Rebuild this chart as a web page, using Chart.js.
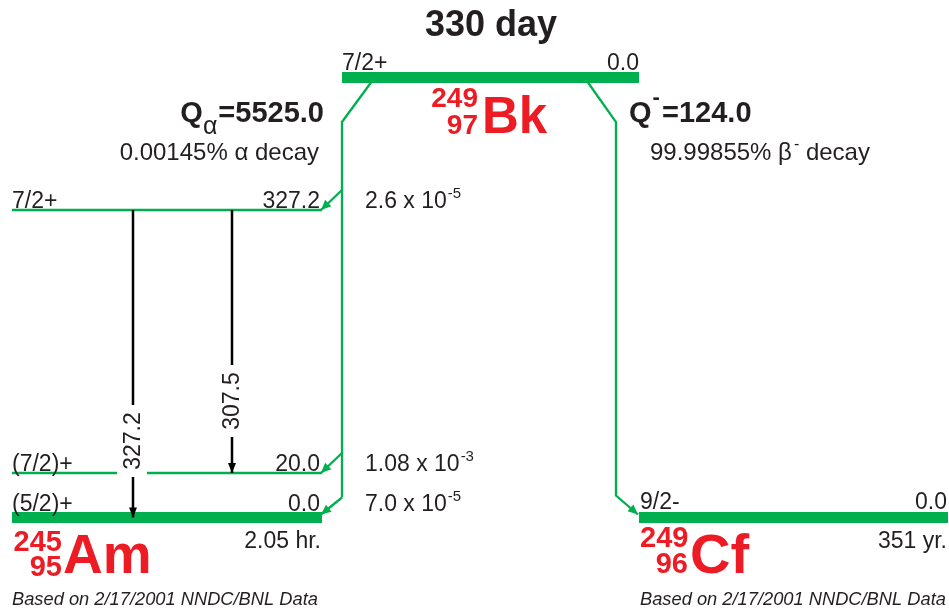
<!DOCTYPE html>
<html>
<head>
<meta charset="utf-8">
<script src="https://cdn.jsdelivr.net/npm/chart.js@4.4.1/dist/chart.umd.min.js"></script>
<style>
  html, body { margin: 0; padding: 0; background: #fff; overflow: hidden; }
  canvas { display: block; }
</style>
</head>
<body>
<canvas id="scheme" width="949" height="611"></canvas>
<script>
// ================== decay data ==================
const halfLife = "330 day";
const parentSpin = "7/2+";
const parentEnergy = 0.0;

const qAlpha = 5525.0;
const alphaBranch = "0.00145%";
const qBeta = 124.0;
const betaBranch = "99.99855%";

const amEnergies = [327.2, 20.0, 0.0];
const amSpins = ["7/2+", "(7/2)+", "(5/2)+"];
const alphaIntensity = ["2.6", "1.08", "7.0"];
const alphaExponent = [-5, -3, -5];
const amHalfLife = "2.05 hr.";

const gammaEnergies = [327.2, 307.5];
const gammaFrom = [327.2, 327.2];
const gammaTo = [0.0, 20.0];

const cfEnergies = [0.0];
const cfSpins = ["9/2-"];
const cfHalfLife = "351 yr.";

const sourceNote = "Based on 2/17/2001 NNDC/BNL Data";

// ================== layout (sheet units) ==================
const GREEN = "#00b04f", RED = "#ed1c24", INK = "#231f20";
const FONT = "'Liberation Sans', Arial, Helvetica, sans-serif";

const amRows = { "327.2": 210, "20.0": 473, "0.0": 517.5 }; // schematic, not to scale
const amRow = e => amRows[e.toFixed(1)];
const bkRow = 77.5, cfRow = 517.5;
const amSpan = [12, 322], bkSpan = [342, 639], cfSpan = [639, 948];
const gammaCols = [133, 232];
const gammaLabelMid = [441, 401];
const gammaGap = 36;
const alphaCol = 342, betaCol = 616;

const widthFor = e => (e === 0 ? 11 : 2.5);
const tipFor = e => (e === 0 ? 3 : 0); // arrows stop at top edge of thick bars

// ================== datasets ==================
const datasets = [];

// gamma rays
gammaEnergies.forEach((g, i) => {
  const c = gammaCols[i];
  datasets.push({
    data: [
      { x: c, y: amRow(gammaFrom[i]) },
      { x: c, y: gammaLabelMid[i] - gammaGap },
      { x: c, y: null },
      { x: c, y: gammaLabelMid[i] + gammaGap },
      { x: c, y: amRow(gammaTo[i]) },
    ],
    borderColor: "#000", borderWidth: 2.5, order: 0,
    arrow: { len: 10, w: 4 },
  });
});

// alpha feeding (main trunk + one branch per level)
datasets.push({
  data: [{ x: 371, y: bkRow + 5 }, { x: alphaCol, y: 122 }, { x: alphaCol, y: amRow(0) - 20 }],
  borderColor: GREEN, borderWidth: 2.3, order: 1,
});
amEnergies.forEach(e => {
  datasets.push({
    data: [{ x: alphaCol, y: amRow(e) - 20 }, { x: amSpan[1] - 1, y: amRow(e) - tipFor(e) }],
    borderColor: GREEN, borderWidth: 2.3, order: 1,
    arrow: { len: 10, w: 4.5 },
  });
});

// beta feeding
datasets.push({
  data: [{ x: 588, y: bkRow + 5 }, { x: betaCol, y: 122 }, { x: betaCol, y: cfRow - 22 }, { x: cfSpan[0] - 1, y: cfRow - tipFor(0) }],
  borderColor: GREEN, borderWidth: 2.3, order: 1,
  arrow: { len: 10, w: 4.5 },
});

// levels
function levelLine(e, y, span) {
  const pts = [{ x: span[0], y }];
  gammaEnergies.forEach((g, i) => {
    const lo = gammaLabelMid[i] - gammaGap, hi = gammaLabelMid[i] + gammaGap;
    if (e !== 0 && y > lo && y < hi) {
      pts.push({ x: gammaCols[i] - 16, y }, { x: gammaCols[i], y: null }, { x: gammaCols[i] + 14, y });
    }
  });
  pts.push({ x: span[1], y });
  return pts;
}
datasets.push({ data: levelLine(parentEnergy, bkRow, bkSpan), borderColor: GREEN, borderWidth: 11, order: 2 });
amEnergies.forEach(e => {
  datasets.push({ data: levelLine(e, amRow(e), amSpan), borderColor: GREEN, borderWidth: widthFor(e), order: 2 });
});
cfEnergies.forEach(e => {
  datasets.push({ data: levelLine(e, cfRow, cfSpan), borderColor: GREEN, borderWidth: widthFor(e), order: 2 });
});

datasets.forEach(d => Object.assign(d, {
  showLine: true, pointRadius: 0, pointHoverRadius: 0, tension: 0, fill: false, spanGaps: false,
}));

// ================== plugins ==================
const arrowHeads = {
  id: "arrowHeads",
  afterDatasetsDraw(chart) {
    const ctx = chart.ctx;
    chart.data.datasets.forEach((ds, i) => {
      if (!ds.arrow) return;
      const pts = chart.getDatasetMeta(i).data.filter(p => !p.skip);
      const a = pts[pts.length - 2], b = pts[pts.length - 1];
      const ang = Math.atan2(b.y - a.y, b.x - a.x);
      ctx.save();
      ctx.fillStyle = ds.borderColor;
      ctx.translate(b.x, b.y);
      ctx.rotate(ang);
      ctx.beginPath();
      ctx.moveTo(0, 0);
      ctx.lineTo(-ds.arrow.len, -ds.arrow.w);
      ctx.lineTo(-ds.arrow.len, ds.arrow.w);
      ctx.closePath();
      ctx.fill();
      ctx.restore();
    });
  },
};

const labels = {
  id: "labels",
  afterDraw(chart) {
    const ctx = chart.ctx;
    const X = v => chart.scales.x.getPixelForValue(v);
    const Y = v => chart.scales.y.getPixelForValue(v);
    const put = (s, x, y, size, opt = {}) => {
      ctx.font = `${opt.style || ""} ${opt.bold ? "bold" : ""} ${size}px ${FONT}`;
      ctx.fillStyle = opt.color || INK;
      ctx.textAlign = opt.align || "left";
      ctx.textBaseline = "alphabetic";
      ctx.fillText(s, X(x), Y(y));
      return ctx.measureText(s).width;
    };
    ctx.save();

    // title
    put(halfLife, 491, 36, 36, { bold: true, align: "center" });

    // parent
    put(parentSpin, bkSpan[0], bkRow - 8, 23);
    put(parentEnergy.toFixed(1), bkSpan[1], bkRow - 8, 23, { align: "right" });
    put("249", 478, 107, 28, { bold: true, align: "right", color: RED });
    put("97", 478, 134, 28, { bold: true, align: "right", color: RED });
    put("Bk", 482, 133, 51, { bold: true, color: RED });

    // Q alpha
    let w = put("=" + qAlpha.toFixed(1), 324, 122, 29, { bold: true, align: "right" });
    let x = 324 - w - 1;
    w = put("\u03b1", x, 134, 25, { align: "right" });
    put("Q", x - w, 122, 29, { bold: true, align: "right" });
    put(alphaBranch + " \u03b1 decay", 319, 160, 24, { align: "right" });

    // Q beta
    x = 629;
    x += put("Q", x, 122, 29, { bold: true });
    put("-", x + 1, 104, 22, { bold: true });
    put("=" + qBeta.toFixed(1), 662, 122, 29, { bold: true });
    x = 650;
    x += put(betaBranch + " \u03b2", x, 160, 24);
    x += put("-", x + 2, 149, 16);
    put(" decay", x + 2, 160, 24);

    // daughter Am levels
    amEnergies.forEach((e, i) => {
      const base = amRow(e) - widthFor(e) / 2 - 1;
      put(amSpins[i], amSpan[0], base, 23);
      put(e.toFixed(1), amSpan[1] - 2, base, 23, { align: "right" });
      const w1 = put(alphaIntensity[i] + " x 10", 365, base, 23);
      put(String(alphaExponent[i]), 365 + w1 + 1, base - 10, 15);
    });
    put(amHalfLife, 321, 548, 23, { align: "right" });
    put("245", 62, 551, 29, { bold: true, align: "right", color: RED });
    put("95", 62, 576, 29, { bold: true, align: "right", color: RED });
    put("Am", 63, 573, 55, { bold: true, color: RED });

    // gamma energies, rotated
    gammaEnergies.forEach((g, i) => {
      ctx.save();
      ctx.translate(X(gammaCols[i]) + 1, Y(gammaLabelMid[i]));
      ctx.rotate(-Math.PI / 2);
      ctx.font = `23px ${FONT}`;
      ctx.fillStyle = INK;
      ctx.textAlign = "center";
      ctx.textBaseline = "middle";
      ctx.fillText(g.toFixed(1), 0, 0);
      ctx.restore();
    });

    // daughter Cf
    cfEnergies.forEach((e, i) => {
      const base = cfRow - widthFor(e) / 2 - 3;
      put(cfSpins[i], cfSpan[0] + 1, base, 23);
      put(e.toFixed(1), 947, base, 23, { align: "right" });
    });
    put(cfHalfLife, 947, 548, 23, { align: "right" });
    put("249", 640, 547, 29, { bold: true, color: RED });
    put("96", 688, 573, 29, { bold: true, align: "right", color: RED });
    put("Cf", 690, 573, 56, { bold: true, color: RED });

    // source notes
    put(sourceNote, 12, 605, 18.3, { style: "italic" });
    put(sourceNote, 640, 605, 18.3, { style: "italic" });

    ctx.restore();
  },
};

// ================== chart ==================
new Chart(document.getElementById("scheme").getContext("2d"), {
  type: "scatter",
  data: { datasets },
  options: {
    responsive: false,
    animation: false,
    events: [],
    layout: { padding: 0 },
    scales: {
      x: { type: "linear", min: 0, max: 949, display: false },
      y: { type: "linear", min: 0, max: 611, reverse: true, display: false },
    },
    plugins: { legend: { display: false }, tooltip: { enabled: false } },
  },
  plugins: [arrowHeads, labels],
});
</script>
</body>
</html>
